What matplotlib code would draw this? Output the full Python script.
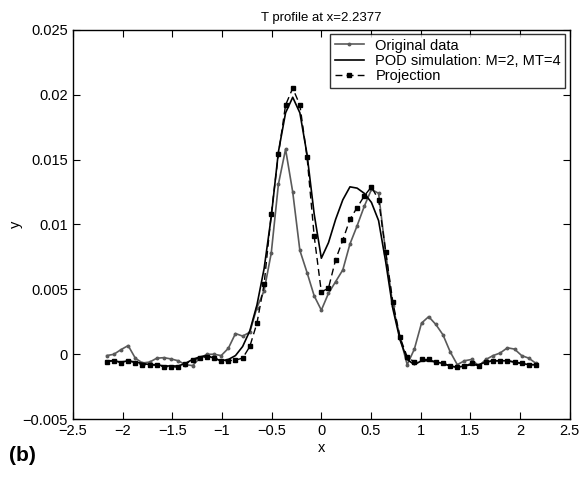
import numpy as np
import matplotlib
matplotlib.use("Agg")
import matplotlib.pyplot as plt
from matplotlib.ticker import FuncFormatter

plt.rcParams["font.family"] = ["Liberation Sans", "DejaVu Sans"]

# grid of 61 sample points
x = [-2.160, -2.088, -2.016, -1.944, -1.872, -1.800, -1.728, -1.656, -1.584, -1.512,
     -1.440, -1.368, -1.296, -1.224, -1.152, -1.080, -1.008, -0.936, -0.864, -0.792,
     -0.720, -0.648, -0.576, -0.504, -0.432, -0.360, -0.288, -0.216, -0.144, -0.072,
     0.000, 0.072, 0.144, 0.216, 0.288, 0.360, 0.432, 0.504, 0.576, 0.648,
     0.720, 0.792, 0.864, 0.936, 1.008, 1.080, 1.152, 1.224, 1.296, 1.368,
     1.440, 1.512, 1.584, 1.656, 1.728, 1.800, 1.872, 1.944, 2.016, 2.088, 2.160]

original = [-0.0001, 0.0000, 0.00036, 0.00067, -0.0003, -0.00067, -0.0006, -0.0003, -0.00026, -0.00036,
            -0.0005, -0.0008, -0.00087, -0.0003, 0.0000, 0.0000, -0.0001, 0.00046, 0.0016, 0.0014,
            0.0017, 0.0036, 0.0049, 0.0078, 0.0131, 0.0158, 0.0125, 0.0080, 0.0063, 0.0045,
            0.0034, 0.0047, 0.0056, 0.0065, 0.0085, 0.0099, 0.0114, 0.0127, 0.0124, 0.0078,
            0.0037, 0.0013, -0.0008, 0.0004, 0.0024, 0.0029, 0.0023, 0.0015, 0.0002, -0.0008,
            -0.0005, -0.0004, -0.0009, -0.0004, -0.0001, 0.0001, 0.0005, 0.0004, -0.0001, -0.0003,
            -0.0007]

pod = [-0.0005, -0.0005, -0.0006, -0.0005, -0.0006, -0.0007, -0.0008, -0.0008, -0.0009, -0.0009,
       -0.0009, -0.0007, -0.0004, -0.0002, -0.0001, -0.0003, -0.0005, -0.0004, -0.0001, 0.0006,
       0.0018, 0.0038, 0.0066, 0.0106, 0.0156, 0.0186, 0.0198, 0.0186, 0.0154, 0.0108,
       0.0074, 0.0086, 0.0104, 0.0119, 0.0129, 0.0128, 0.0124, 0.0117, 0.0103, 0.0071,
       0.0035, 0.0011, -0.0004, -0.0008, -0.0005, -0.0005, -0.0006, -0.0007, -0.0009, -0.0010,
       -0.0009, -0.0008, -0.0008, -0.0006, -0.0005, -0.0005, -0.0005, -0.0006, -0.0007, -0.0008,
       -0.0008]

projection = [-0.00056, -0.0005, -0.00064, -0.0005, -0.00064, -0.0008, -0.0008, -0.00085, -0.00095, -0.00095,
              -0.0010, -0.00074, -0.00044, -0.0003, -0.00018, -0.0003, -0.0005, -0.0005, -0.00044, -0.0003,
              0.0006, 0.0024, 0.0054, 0.0108, 0.0154, 0.0192, 0.0205, 0.0192, 0.0152, 0.0091,
              0.0048, 0.0051, 0.0073, 0.0088, 0.0104, 0.0113, 0.0122, 0.0129, 0.0119, 0.0079,
              0.0040, 0.0013, -0.0002, -0.0006, -0.0004, -0.0004, -0.0006, -0.0007, -0.0009, -0.0010,
              -0.0009, -0.0007, -0.0009, -0.0006, -0.0005, -0.0005, -0.0005, -0.0006, -0.0007, -0.0008,
              -0.0008]

xticks = [-2.5, -2, -1.5, -1, -0.5, 0, 0.5, 1, 1.5, 2, 2.5]
yticks = [-0.005, 0, 0.005, 0.01, 0.015, 0.02, 0.025]


def fmt(v, pos):
    return ("%g" % v).replace("-", "\u2212")


fig = plt.figure(figsize=(5.88, 4.88), dpi=100)
ax = fig.add_axes([0.124, 0.141, 0.845, 0.798])

ax.plot(x, original, color="#5a5a5a", lw=1.2, marker="o", ms=1.8, label="Original data")
ax.plot(x, pod, color="black", lw=1.2, label="POD simulation: M=2, MT=4")
ax.plot(x, projection, color="black", lw=1.0, ls=(0, (5, 3)), marker="s", ms=3.5,
        label="Projection")

ax.set_xlim(-2.5, 2.5)
ax.set_ylim(-0.005, 0.025)
ax.set_xticks(xticks)
ax.set_yticks(yticks)
ax.xaxis.set_major_formatter(FuncFormatter(fmt))
ax.yaxis.set_major_formatter(FuncFormatter(fmt))
ax.tick_params(direction="in", top=True, right=True, length=5, labelsize=10.5)
for s in ax.spines.values():
    s.set_linewidth(1.0)

ax.set_title("T profile at x=2.2377", fontsize=9.5)
ax.set_xlabel("x", fontsize=10.5, labelpad=2)
ax.set_ylabel("y", fontsize=10.5, labelpad=0)

leg = ax.legend(loc="upper right", fontsize=10.5, fancybox=False, edgecolor="black",
                handlelength=2.0, borderaxespad=0.3, labelspacing=0.1, borderpad=0.3)
leg.get_frame().set_linewidth(1.0)

fig.text(0.015, 0.055, "(b)", fontsize=15, fontweight="bold")

fig.savefig("out.png", dpi=100)
